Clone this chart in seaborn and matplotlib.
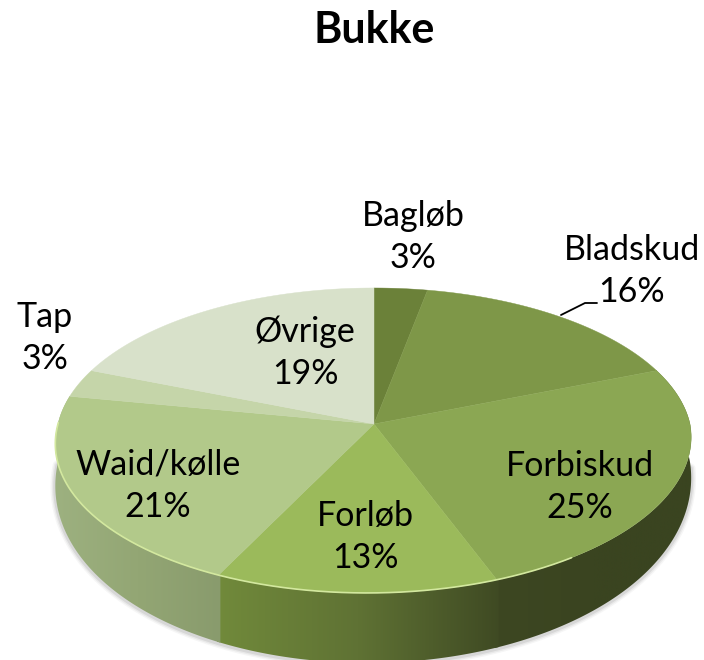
import numpy as np
import matplotlib
matplotlib.use("Agg")
import matplotlib.pyplot as plt
from matplotlib.patches import Polygon
import seaborn as sns

title = "Bukke"
labels = ["Bagløb", "Bladskud", "Forbiskud", "Forløb", "Waid/kølle", "Tap", "Øvrige"]
values = [3, 16, 25, 13, 21, 3, 19]
top_colors = ["#6b8139", "#7e9748", "#8ba753", "#9bba5b", "#b2c98a", "#c5d5a9", "#d8e1ca"]
# wall shading from left to right, only the front slices show a wall
wall_colors = {
    "Forbiskud": ["#3d4722", "#3a4420", "#3a4420"],
    "Forløb": ["#718a3b", "#5f7234", "#3f4a23"],
    "Waid/kølle": ["#9db180", "#93a674", "#899b6d"],
}
label_pos = {
    "Bagløb": (413, 237),
    "Bladskud": (632, 271),
    "Forbiskud": (580, 487),
    "Forløb": (365, 537),
    "Waid/kølle": (158, 486),
    "Tap": (45, 338),
    "Øvrige": (305, 353),
}

sns.set_theme(style="white")
plt.rcParams["font.family"] = ["Lato", "DejaVu Sans"]

# perspective ellipse, in pixels of the picture
cx, cy = 374, 424
a, b, k = 316, 150.7, 0.108
shear = 7


def project(theta):
    x = np.sin(theta)
    y = np.cos(theta)
    w = 1 + k * y
    return cx + a * x / w + shear * np.minimum(y, 0), cy - b * y / w


def wall_depth(theta):
    # the wall looks taller at the front than at the sides
    return 38 - 32 * np.cos(theta)


fig, ax = plt.subplots(figsize=(7.04, 6.6), dpi=100)
fig.subplots_adjust(0, 0, 1, 1)

edges = np.cumsum([0] + values) / sum(values) * 2 * np.pi

# soft shadow under the base
t = np.linspace(1.6, 4.7, 300)
sx, sy = project(t)
for lw, al in [(7, 0.05), (5, 0.08), (3, 0.12)]:
    ax.plot(sx, sy + wall_depth(t) + 1, color="#555555", lw=lw, alpha=al, solid_capstyle="round")

# side walls
for i, name in enumerate(labels):
    if name not in wall_colors:
        continue
    tt = np.linspace(edges[i] - 0.006, edges[i + 1] + 0.006, 200)
    px, py = project(tt)
    low = py + wall_depth(tt)
    wall = Polygon(np.c_[np.r_[px, px[::-1]], np.r_[py, low[::-1]]], transform=ax.transData,
                   facecolor="none", edgecolor="none")
    ax.add_patch(wall)
    cmap = sns.blend_palette(wall_colors[name], 256, as_cmap=True)
    img = ax.imshow(np.linspace(0, 1, 256)[None, :], cmap=cmap, aspect="auto", zorder=2,
                    extent=(px.min(), px.max(), low.max(), py.min()))
    img.set_clip_path(wall)

# top face
for i, name in enumerate(labels):
    tt = np.linspace(edges[i], edges[i + 1], 120)
    px, py = project(tt)
    ax.fill(np.r_[cx, px], np.r_[cy, py], color=top_colors[i], lw=0.3, zorder=3)

# light rim on the front left
tt = np.linspace(edges[3] - 0.25, edges[5] - 0.18, 200)
ax.plot(*project(tt), color="#d3e89f", lw=1.2, zorder=4)

# labels
for name, val in zip(labels, values):
    x, y = label_pos[name]
    ax.text(x, y, f"{name}\n{val}%", ha="center", va="center", fontsize=24.5,
            color="black", linespacing=1.4, zorder=5)

ax.plot([561, 585, 597], [315, 303, 303], color="black", lw=1.3, zorder=5)
ax.text(374, 30, title, ha="center", va="center", fontsize=31, fontweight="bold", color="black")

ax.set_xlim(0, 704)
ax.set_ylim(660, 0)
ax.axis("off")

fig.savefig("out.png", dpi=100)
